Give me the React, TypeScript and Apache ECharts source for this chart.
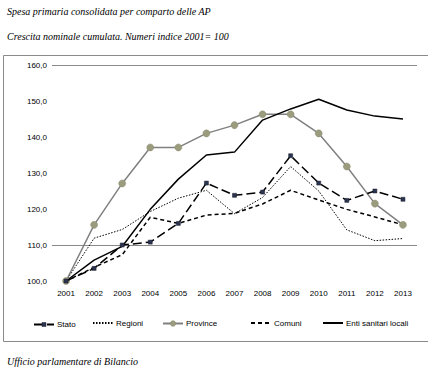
import React, { useEffect, useRef } from "react";
import * as echarts from "echarts";

const years = ["2001", "2002", "2003", "2004", "2005", "2006", "2007", "2008", "2009", "2010", "2011", "2012", "2013"];
const stato = [100, 103.5, 110.0, 110.8, 116.0, 127.2, 123.8, 124.7, 134.8, 127.2, 122.4, 125.0, 122.7];
const regioni = [100, 111.9, 114.3, 119.3, 123.0, 125.2, 118.7, 123.2, 131.8, 125.0, 114.2, 111.2, 111.8];
const province = [100, 115.6, 127.1, 137.1, 137.1, 141.0, 143.3, 146.3, 146.3, 141.0, 131.8, 121.5, 115.6];
const comuni = [100, 103.8, 107.3, 117.7, 116.0, 118.3, 118.8, 121.4, 125.2, 122.5, 119.9, 117.8, 115.6];
const enti = [100, 105.8, 109.6, 119.9, 128.3, 135.0, 135.8, 144.7, 147.8, 150.5, 147.5, 145.8, 145.0];

const titleText = "Spesa primaria consolidata per comparto delle AP";
const subtitleText = "Crescita nominale cumulata. Numeri indice 2001= 100";
const footerText = "Ufficio parlamentare di Bilancio";

const serif = "'Liberation Serif', 'DejaVu Serif', serif";
const sans = "'Liberation Sans', Arial, sans-serif";

export default function App() {
  const ref = useRef<HTMLDivElement>(null);
  useEffect(() => {
    if (!ref.current) return;
    const chart = echarts.init(ref.current, undefined, { renderer: "svg" });
    const legendPos = [
      { name: "Stato", left: 33, h: 5, item: { color: "#2b3550", borderColor: "#1a1a2a", borderWidth: 0.5 }, line: { color: "#000" } },
      { name: "Regioni", left: 92, h: 8, item: { opacity: 0 }, line: { color: "#000" } },
      { name: "Province", left: 162, h: 7, item: { color: "#9b9b7d", borderColor: "#8c8c70", borderWidth: 0.5 }, line: { color: "#808080" } },
      { name: "Comuni", left: 250, h: 8, item: { opacity: 0 }, line: { color: "#000" } },
      { name: "Enti sanitari locali", left: 322, h: 8, item: { opacity: 0 }, line: { color: "#000" } },
    ];
    const titleStyle = { fontFamily: serif, fontSize: 10, fontStyle: "italic", fontWeight: "normal", color: "#000" };
    chart.setOption({
      animation: false,
      backgroundColor: "#fff",
      title: [
        { text: titleText, left: 7, top: 6, padding: 0, textStyle: titleStyle },
        { text: subtitleText, left: 7, top: 31, padding: 0, textStyle: titleStyle },
        { text: footerText, left: 7, top: 356, padding: 0, textStyle: titleStyle },
      ],
      legend: legendPos.map((l) => ({
        data: [l.name],
        left: l.left,
        top: 323 - l.h / 2,
        padding: 0,
        itemWidth: 20,
        itemHeight: l.h,
        itemGap: 0,
        itemStyle: l.item,
        lineStyle: l.line,
        textStyle: { fontFamily: sans, fontSize: 8, color: "#000", padding: [0, 0, 0, -2] },
      })),
      grid: { left: 52, right: 22, top: 65, bottom: 98, containLabel: false },
      graphic: [
        { type: "line", shape: { x1: 3.5, y1: 55.5, x2: 428, y2: 55.5 }, style: { stroke: "#8a8a8a", lineWidth: 1 } },
        { type: "line", shape: { x1: 3.5, y1: 55.5, x2: 3.5, y2: 341.5 }, style: { stroke: "#8a8a8a", lineWidth: 1 } },
        { type: "line", shape: { x1: 3.5, y1: 341.5, x2: 428, y2: 341.5 }, style: { stroke: "#8a8a8a", lineWidth: 1 } },
      ],
      xAxis: {
        type: "category",
        data: years,
        boundaryGap: true,
        axisLine: { show: false },
        axisTick: { show: false },
        axisLabel: { fontFamily: sans, fontSize: 8, color: "#000", margin: 8 },
        splitLine: { show: false },
      },
      yAxis: {
        type: "value",
        min: 100,
        max: 160,
        interval: 10,
        axisLine: { show: false },
        axisTick: { show: false },
        axisLabel: {
          fontFamily: sans,
          fontSize: 8,
          color: "#000",
          margin: 5,
          formatter: (v: number) => v.toFixed(1).replace(".", ","),
        },
        splitLine: {
          show: true,
          lineStyle: { color: ["rgba(0,0,0,0)", "#8a8a8a", "rgba(0,0,0,0)", "rgba(0,0,0,0)", "rgba(0,0,0,0)", "rgba(0,0,0,0)", "#8a8a8a"], width: 1 },
        },
      },
      series: [
        {
          name: "Stato",
          type: "line",
          data: stato,
          symbol: "rect",
          symbolSize: 4,
          itemStyle: { color: "#2b3550", borderColor: "#1a1a2a", borderWidth: 0.5 },
          lineStyle: { color: "#000", width: 1.5, type: [9, 4] },
          z: 5,
        },
        {
          name: "Regioni",
          type: "line",
          data: regioni,
          symbol: "none",
          itemStyle: { color: "#000" },
          lineStyle: { color: "#000", width: 1, type: [1.5, 1.5] },
        },
        {
          name: "Province",
          type: "line",
          data: province,
          symbol: "circle",
          symbolSize: 7,
          itemStyle: { color: "#9b9b7d", borderColor: "#8c8c70", borderWidth: 0.5 },
          lineStyle: { color: "#808080", width: 1.5 },
        },
        {
          name: "Comuni",
          type: "line",
          data: comuni,
          symbol: "none",
          itemStyle: { color: "#000" },
          lineStyle: { color: "#000", width: 1.5, type: [4, 3] },
        },
        {
          name: "Enti sanitari locali",
          type: "line",
          data: enti,
          symbol: "none",
          itemStyle: { color: "#000" },
          lineStyle: { color: "#000", width: 1.5 },
        },
      ],
    });
    return () => chart.dispose();
  }, []);
  return <div ref={ref} style={{ position: "absolute", left: 0, top: 0, width: 439, height: 379 }} />;
}
